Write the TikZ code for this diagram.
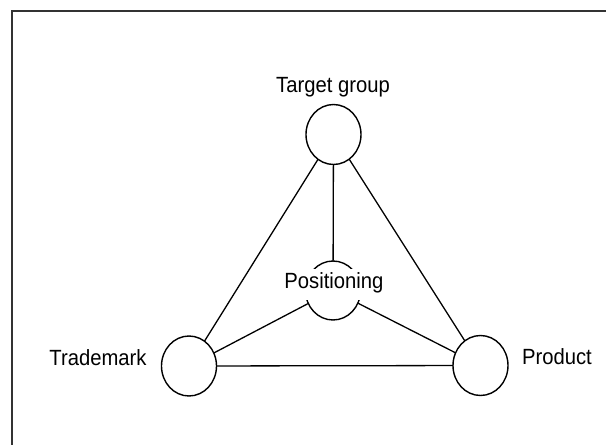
\documentclass[tikz,border=0pt]{standalone}
\usepackage{fontspec}
\setmainfont{Liberation Sans}[FakeStretch=0.92]
\usetikzlibrary{shapes.geometric}

\tikzset{
  hub/.style={ellipse, draw, line width=1.4pt, minimum width=55pt, minimum height=60pt, inner sep=0pt, outer sep=0pt},
  link/.style={line width=1.3pt},
  caption/.style={font=\fontsize{22}{26}\selectfont, inner sep=0pt, anchor=base},
  frameline/.style={line width=1.7pt, black!80}
}

\begin{document}
\begin{tikzpicture}[x=1pt, y=-1pt]
  \useasboundingbox (0,0) rectangle (606,445);

  % open frame: top and left edges only
  \draw[frameline] (11,11) -- (606,11);
  \draw[frameline] (12,11) -- (12,445);

  % the four elements
  \node[hub] (tg)  at (333.5,134.5) {};
  \node[hub, minimum height=59pt] (pos) at (333,290.5) {};
  \node[hub] (tm)  at (189,366) {};
  \node[hub] (pd)  at (480.5,365.5) {};

  % connections
  \draw[link] (tg) -- (pos);
  \draw[link] (tg) -- (tm);
  \draw[link] (tg) -- (pd);
  \draw[link] (pos) -- (tm);
  \draw[link] (pos) -- (pd);
  \draw[link] (tm) -- (pd);

  % labels
  \node[caption] (tglabel) at (333,92) {Target group};
  \node[caption, fill=white, inner xsep=1pt, text height=19pt, text depth=12pt] (poslabel) at (334,288) {Positioning};
  \node[caption] (tmlabel) at (98,365) {Trademark};
  \node[caption] (pdlabel) at (557,364.5) {Product};
\end{tikzpicture}
\end{document}
